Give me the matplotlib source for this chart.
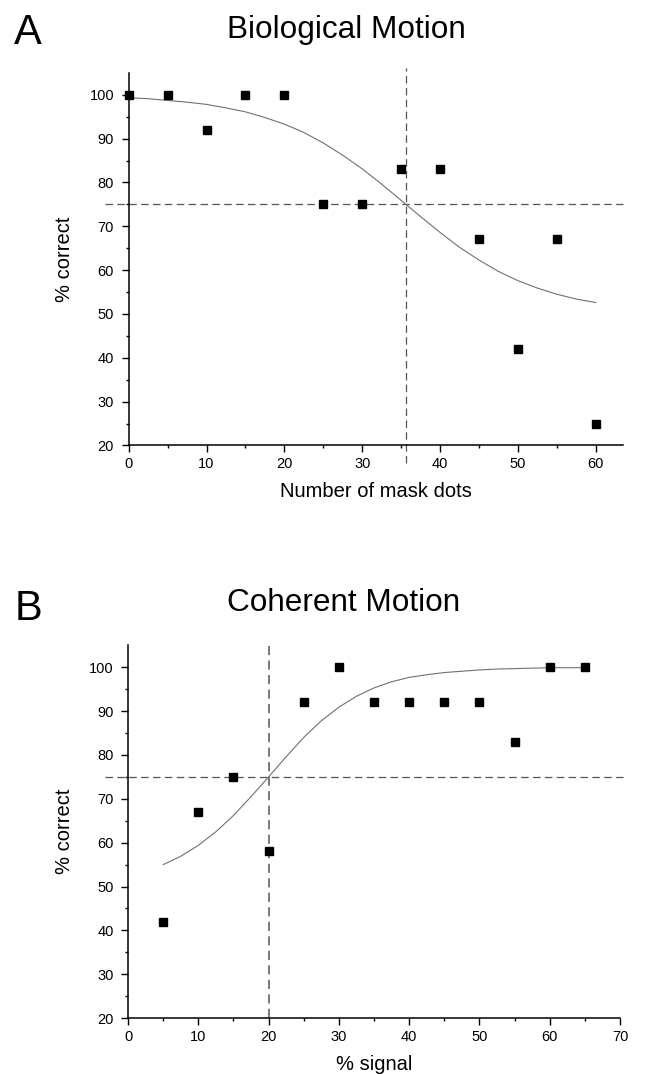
import matplotlib
matplotlib.use("Agg")
import matplotlib.pyplot as plt
import numpy as np

plt.rcParams['font.family'] = ['Liberation Sans', 'DejaVu Sans']

# Panel A - biological motion
bio_x = [0, 5, 10, 15, 20, 25, 30, 35, 40, 45, 50, 55, 60]
bio_y = [100, 100, 92, 100, 100, 75, 75, 83, 83, 67, 42, 67, 25]
# fitted psychometric curve
bio_fit_x = [0, 2.5, 5, 7.5, 10, 12.5, 15, 17.5, 20, 22.5, 25, 27.5, 30,
             32.5, 35, 37.5, 40, 42.5, 45, 47.5, 50, 52.5, 55, 57.5, 60]
bio_fit_y = [99.3, 99.1, 98.7, 98.3, 97.8, 97.0, 96.1, 94.8, 93.3, 91.4, 89.0, 86.2, 83.1,
             79.6, 75.9, 72.2, 68.6, 65.2, 62.3, 59.7, 57.6, 55.9, 54.5, 53.4, 52.6]
bio_thresh = 35.6

# Panel B - coherent motion
coh_x = [5, 10, 15, 20, 25, 30, 35, 40, 45, 50, 55, 60, 65]
coh_y = [42, 67, 75, 58, 92, 100, 92, 92, 92, 92, 83, 100, 100]
coh_fit_x = [5, 7.5, 10, 12.5, 15, 17.5, 20, 22.5, 25, 27.5, 30, 32.5, 35,
             37.5, 40, 42.5, 45, 47.5, 50, 52.5, 55, 57.5, 60, 62.5, 65]
coh_fit_y = [55.0, 56.9, 59.4, 62.5, 66.2, 70.5, 75.0, 79.6, 84.0, 87.8, 90.9, 93.4, 95.3,
             96.7, 97.7, 98.3, 98.8, 99.1, 99.4, 99.6, 99.7, 99.8, 99.9, 99.9, 99.9]
coh_thresh = 20

criterion = 75

fig = plt.figure(figsize=(6.45, 10.74), dpi=100)
axA = fig.add_axes([0.1995, 0.5852, 0.7664, 0.3470])
axB = fig.add_axes([0.1986, 0.0521, 0.7626, 0.3470])

dash_col = '#555555'
dash = (0, (6, 3.5))


def style(ax, xmax, xticks, xlabel):
    ax.set_xlim(0, xmax)
    ax.set_ylim(20, 105)
    ax.set_xticks(xticks)
    ax.set_xticks(np.arange(5, xmax, 10), minor=True)
    ax.set_yticks(range(20, 101, 10))
    ax.set_yticks(range(25, 105, 10), minor=True)
    for s in ['top', 'right']:
        ax.spines[s].set_visible(False)
    for s in ['left', 'bottom']:
        ax.spines[s].set_linewidth(1.1)
    ax.tick_params(which='major', direction='out', length=5, width=1, labelsize=10.5)
    ax.tick_params(which='minor', direction='out', length=2.5, width=1)
    ax.tick_params(axis='x', pad=3.5)
    ax.tick_params(axis='y', pad=5.5)
    ax.set_xlabel(xlabel, fontsize=14.5, labelpad=8)
    ax.set_ylabel('% correct', fontsize=14.5, labelpad=11)


style(axA, 63.5, range(0, 61, 10), 'Number of mask dots')
axA.plot([-3, 63.5], [criterion, criterion], color=dash_col, lw=0.9, ls=dash, clip_on=False)
axA.plot([bio_thresh, bio_thresh], [16, 106], color=dash_col, lw=0.9, ls=dash, clip_on=False)
axA.plot(bio_fit_x, bio_fit_y, color='#707070', lw=0.8)
axA.plot(bio_x, bio_y, ls='none', marker='s', ms=5.5, color='black', clip_on=False, zorder=5)

style(axB, 70, range(0, 71, 10), '% signal')
axB.plot([-3.3, 70.4], [criterion, criterion], color=dash_col, lw=0.9, ls=dash, clip_on=False)
axB.plot([coh_thresh, coh_thresh], [20, 105.3], color=dash_col, lw=1.1, ls=dash, clip_on=False)
axB.plot(coh_fit_x, coh_fit_y, color='#707070', lw=0.8)
axB.plot(coh_x, coh_y, ls='none', marker='s', ms=5.5, color='black', clip_on=False, zorder=5)

fig.text(0.5377, 1 - 38 / 1074, 'Biological Motion', fontsize=22.7, ha='center', va='baseline')
fig.text(0.022, 1 - 44 / 1074, 'A', fontsize=30, ha='left', va='baseline')
fig.text(0.5330, 1 - 611 / 1074, 'Coherent Motion', fontsize=22.7, ha='center', va='baseline')
fig.text(0.022, 1 - 620 / 1074, 'B', fontsize=30, ha='left', va='baseline')

fig.savefig('out.png', dpi=100)
